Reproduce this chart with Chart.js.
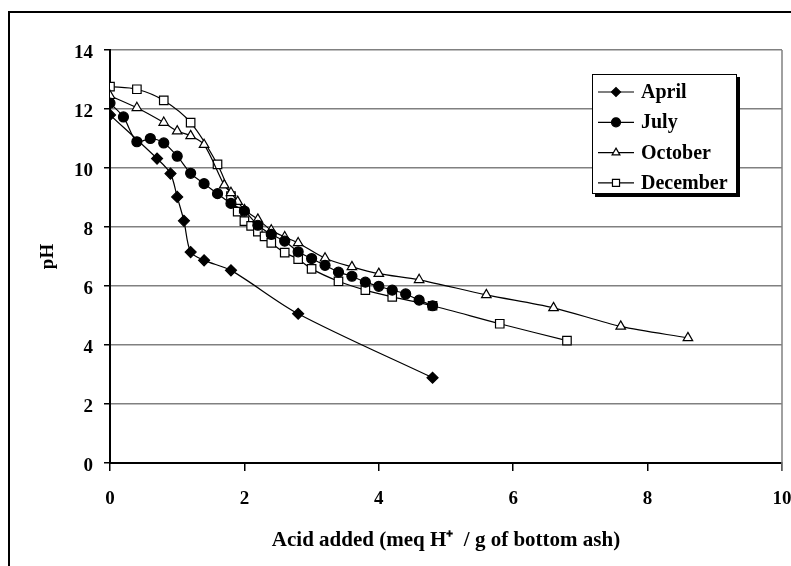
<!DOCTYPE html>
<html>
<head>
<meta charset="utf-8">
<script src="https://cdn.jsdelivr.net/npm/chart.js@4/dist/chart.umd.min.js"></script>
<style>
  html, body { margin: 0; padding: 0; background: #fff; }
  canvas { display: block; }
</style>
</head>
<body>
<canvas id="c" width="791" height="566"></canvas>
<script>
// ---- Data ----
const seriesNames = ["April", "July", "October", "December"];

const aprilX = [0, 0.7, 0.9, 1.0, 1.1, 1.2, 1.4, 1.8, 2.8, 4.8];
const aprilY = [11.8, 10.32, 9.81, 9.02, 8.21, 7.15, 6.87, 6.53, 5.06, 2.89];

const julyX = [0, 0.2, 0.4, 0.6, 0.8, 1.0, 1.2, 1.4, 1.6, 1.8, 2.0, 2.2, 2.4, 2.6, 2.8, 3.0, 3.2, 3.4, 3.6, 3.8, 4.0, 4.2, 4.4, 4.6, 4.8];
const julyY = [12.2, 11.73, 10.89, 11.0, 10.85, 10.4, 9.82, 9.47, 9.13, 8.8, 8.54, 8.06, 7.75, 7.52, 7.16, 6.93, 6.7, 6.47, 6.33, 6.13, 5.99, 5.86, 5.73, 5.52, 5.33];

const octoberX = [0, 0.4, 0.8, 1.0, 1.2, 1.4, 1.7, 1.8, 1.9, 2.0, 2.2, 2.4, 2.6, 2.8, 3.2, 3.6, 4.0, 4.6, 5.6, 6.6, 7.6, 8.6];
const octoberY = [12.45, 12.04, 11.54, 11.25, 11.09, 10.79, 9.42, 9.16, 8.86, 8.58, 8.26, 7.89, 7.66, 7.46, 6.94, 6.65, 6.42, 6.21, 5.7, 5.26, 4.63, 4.24];

const decemberX = [0, 0.4, 0.8, 1.2, 1.6, 1.8, 1.9, 2.0, 2.1, 2.2, 2.3, 2.4, 2.6, 2.8, 3.0, 3.4, 3.8, 4.2, 4.8, 5.8, 6.8];
const decemberY = [12.76, 12.67, 12.29, 11.54, 10.12, 9.05, 8.52, 8.2, 8.04, 7.84, 7.68, 7.46, 7.13, 6.91, 6.58, 6.16, 5.86, 5.63, 5.33, 4.72, 4.15];

const xTickValues = [0, 2, 4, 6, 8, 10];
const yTickValues = [0, 2, 4, 6, 8, 10, 12, 14];

const xTitle = "Acid added (meq H\u207A  / g of bottom ash)";
const yTitle = "pH";

// ---- helpers ----
const toPts = (xs, ys) => xs.map((x, i) => ({ x: x, y: ys[i] }));
const FONT = "'Liberation Serif', 'Times New Roman', serif";

const styles = [
  { pointStyle: 'rectRot', radius: 5.5, fill: '#000', legendRadius: 4.5 },
  { pointStyle: 'circle', radius: 5, fill: '#000', legendRadius: 4.5 },
  { pointStyle: 'triangle', radius: 5.5, fill: '#fff', legendRadius: 4.5 },
  { pointStyle: 'rect', radius: 6, fill: '#fff', legendRadius: 5 }
];

const allX = [aprilX, julyX, octoberX, decemberX];
const allY = [aprilY, julyY, octoberY, decemberY];

const datasets = seriesNames.map((name, i) => ({
  label: name,
  data: toPts(allX[i], allY[i]),
  borderColor: '#000',
  borderWidth: 1.2,
  tension: 0.3,
  fill: false,
  pointStyle: styles[i].pointStyle,
  pointRadius: styles[i].radius,
  pointBackgroundColor: styles[i].fill,
  pointBorderColor: '#000',
  pointBorderWidth: 1.2,
  legendRadius: styles[i].legendRadius
}));

// outer frame, plot-area right border, custom legend
const framePlugin = {
  id: 'frame',
  beforeDraw(chart) {
    const ctx = chart.ctx;
    ctx.save();
    ctx.fillStyle = '#fff';
    ctx.fillRect(0, 0, chart.width, chart.height);
    ctx.strokeStyle = '#000';
    ctx.lineWidth = 2;
    ctx.strokeRect(9, 12, chart.width + 20, chart.height + 20);
    ctx.restore();
  },
  beforeDatasetsDraw(chart) {
    const ctx = chart.ctx, a = chart.chartArea;
    ctx.save();
    ctx.strokeStyle = '#808080';
    ctx.lineWidth = 1.5;
    ctx.beginPath();
    ctx.moveTo(a.right, a.top);
    ctx.lineTo(a.right, a.bottom + 8);
    ctx.stroke();
    ctx.restore();
  },
  afterDraw(chart) {
    const ctx = chart.ctx;
    const bx = 592, by = 74, bw = 144, bh = 119;
    ctx.save();
    ctx.fillStyle = '#000';
    ctx.fillRect(bx + 3, by + 3, bw + 1, bh + 1);
    ctx.fillStyle = '#fff';
    ctx.fillRect(bx, by, bw, bh);
    ctx.strokeStyle = '#000';
    ctx.lineWidth = 1;
    ctx.strokeRect(bx + 0.5, by + 0.5, bw, bh);
    chart.data.datasets.forEach((ds, i) => {
      const y = by + 18 + i * 30.3;
      ctx.strokeStyle = '#000';
      ctx.lineWidth = 1.2;
      ctx.beginPath();
      ctx.moveTo(598, y);
      ctx.lineTo(634, y);
      ctx.stroke();
      ctx.fillStyle = ds.pointBackgroundColor;
      ctx.strokeStyle = '#000';
      Chart.helpers.drawPoint(ctx, {
        pointStyle: ds.pointStyle, radius: ds.legendRadius, rotation: 0, borderWidth: 1.2
      }, 616, y);
      ctx.fillStyle = '#000';
      ctx.font = "bold 20px " + FONT;
      ctx.textAlign = 'left';
      ctx.textBaseline = 'middle';
      ctx.fillText(ds.label, 641, y + 1);
    });
    ctx.restore();
  }
};

new Chart(document.getElementById('c'), {
  type: 'line',
  data: { datasets: datasets },
  plugins: [framePlugin],
  options: {
    responsive: false,
    animation: false,
    devicePixelRatio: 1,
    layout: { padding: { top: 50, right: 9, left: 0, bottom: 0 } },
    plugins: { legend: { display: false }, tooltip: { enabled: false } },
    scales: {
      x: {
        type: 'linear',
        min: 0, max: 10,
        afterBuildTicks(scale) { scale.ticks = xTickValues.map(v => ({ value: v })); },
        afterFit(scale) { scale.height = 103; scale.paddingRight = 0; scale.paddingLeft = 0; },
        ticks: {
          color: '#000',
          font: { family: FONT, size: 19, weight: 'bold' },
          padding: 17,
          maxRotation: 0
        },
        grid: { drawOnChartArea: false, drawTicks: true, tickLength: 8, color: '#000', lineWidth: 1.5 },
        border: { color: '#000', width: 2 },
        title: {
          display: true, text: xTitle, color: '#000',
          font: { family: FONT, size: 21, weight: 'bold' },
          padding: { top: 0, bottom: 13 }
        }
      },
      y: {
        type: 'linear',
        min: 0, max: 14,
        afterBuildTicks(scale) { scale.ticks = yTickValues.map(v => ({ value: v })); },
        afterFit(scale) { scale.width = 110; scale.paddingTop = 0; scale.paddingBottom = 0; },
        ticks: {
          color: '#000',
          font: { family: FONT, size: 19, weight: 'bold' },
          padding: 11,
          labelOffset: 3
        },
        grid: { color: '#808080', lineWidth: 1.5, tickLength: 6, tickColor: '#000' },
        border: { color: '#000', width: 2 },
        title: {
          display: true, text: yTitle, color: '#000',
          font: { family: FONT, size: 19, weight: 'bold' },
          padding: { top: 37, bottom: 0 }
        }
      }
    }
  }
});
</script>
</body>
</html>
